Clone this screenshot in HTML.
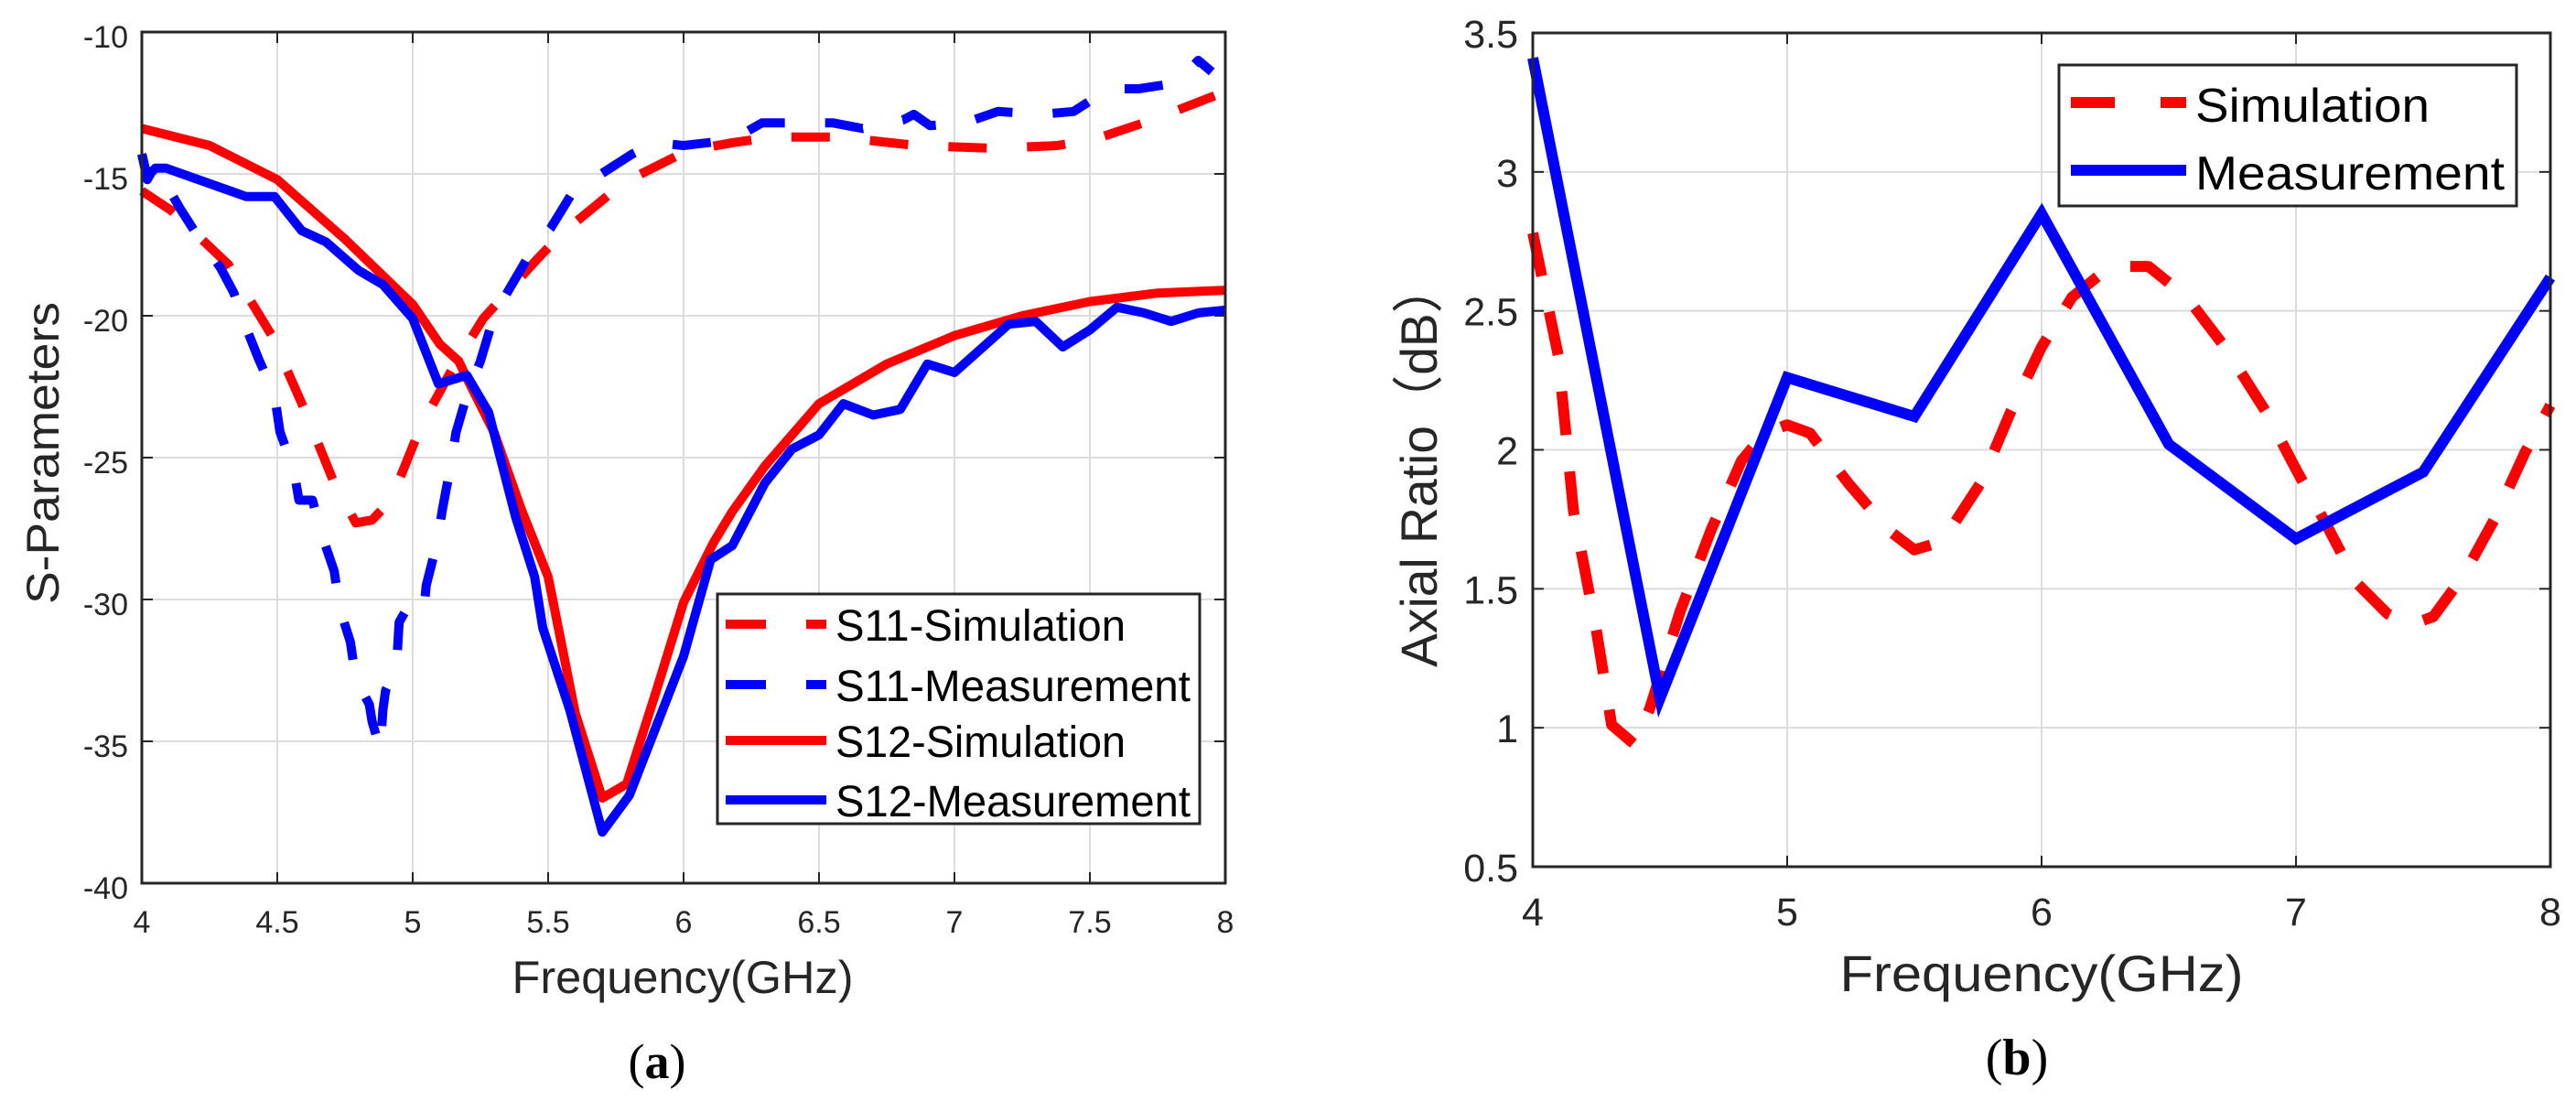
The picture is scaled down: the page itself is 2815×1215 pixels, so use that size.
<!DOCTYPE html>
<html><head><meta charset="utf-8">
<style>
html,body{margin:0;padding:0;background:#fff;}
svg{display:block;font-family:"Liberation Sans","Noto Sans CJK SC",sans-serif;}
</style></head>
<body>
<svg id="fig" width="2815" height="1215" viewBox="0 0 2815 1215" xmlns="http://www.w3.org/2000/svg">
<rect width="2815" height="1215" fill="#fff"/>
<g id="chartA"></g>
<g id="chartB"></g>
</svg>
<script>
// ---------- Chart (a) data ----------
const aXTicks = [4, 4.5, 5, 5.5, 6, 6.5, 7, 7.5, 8];
const aXTickLabels = ["4", "4.5", "5", "5.5", "6", "6.5", "7", "7.5", "8"];
const aYTicks = [-10, -15, -20, -25, -30, -35, -40];
const aYTickLabels = ["-10", "-15", "-20", "-25", "-30", "-35", "-40"];

const s11SimF = [4.0, 4.11, 4.32, 4.48, 4.6, 4.71, 4.79, 4.85, 4.92, 5.03, 5.15, 5.26, 5.46, 5.55, 5.78, 6.01, 6.18, 6.33, 6.57, 6.86, 7.15, 7.38, 7.51, 7.73, 8.0];
const s11SimV = [-15.6, -16.3, -18.2, -20.7, -23.3, -25.9, -27.3, -27.2, -26.5, -23.9, -21.8, -20.1, -18.0, -17.1, -15.3, -14.2, -13.9, -13.7, -13.7, -14.0, -14.1, -14.0, -13.8, -13.1, -12.1];

const s11MeasF = [4.0, 4.02, 4.05, 4.14, 4.2, 4.29, 4.34, 4.38, 4.43, 4.49, 4.51, 4.56, 4.58, 4.63, 4.66, 4.71, 4.73, 4.77, 4.79, 4.84, 4.85, 4.88, 4.89, 4.9, 4.94, 4.95, 4.98, 5.04, 5.05, 5.09, 5.11, 5.14, 5.16, 5.2, 5.25, 5.3, 5.36, 5.44, 5.51, 5.6, 5.68, 5.81, 5.9, 6.0, 6.18, 6.29, 6.39, 6.55, 6.66, 6.81, 6.85, 6.91, 7.04, 7.16, 7.32, 7.44, 7.57, 7.68, 7.82, 7.9, 7.95];
const s11MeasV = [-14.3, -15.2, -14.7, -16.2, -17.1, -18.3, -19.2, -20.3, -21.5, -22.8, -24.1, -25.4, -26.5, -26.5, -27.6, -29.0, -30.3, -31.5, -32.8, -33.7, -34.3, -35.3, -33.9, -33.2, -32.4, -30.8, -30.3, -30.5, -29.5, -28.0, -26.8, -25.3, -24.1, -22.8, -21.6, -20.0, -19.0, -17.7, -16.9, -15.5, -15.1, -14.3, -13.9, -14.0, -13.8, -13.2, -13.2, -13.2, -13.4, -13.1, -12.9, -13.3, -13.2, -12.8, -12.9, -12.8, -12.0, -12.0, -11.8, -11.0, -11.4];

const s12SimF = [4.0, 4.25, 4.5, 4.75, 5.0, 5.1, 5.17, 5.2, 5.3, 5.4, 5.5, 5.6, 5.7, 5.79, 5.9, 6.0, 6.11, 6.18, 6.3, 6.5, 6.75, 7.0, 7.25, 7.5, 7.75, 8.0];
const s12SimV = [-13.4, -14.0, -15.2, -17.3, -19.6, -21.0, -21.6, -22.2, -24.1, -26.8, -29.2, -34.0, -37.0, -36.5, -33.2, -30.1, -28.0, -26.9, -25.3, -23.1, -21.7, -20.7, -20.0, -19.5, -19.2, -19.1];

const s12MeasF = [4.0, 4.02, 4.05, 4.09, 4.385, 4.49, 4.59, 4.68, 4.8, 4.89, 5.0, 5.095, 5.2, 5.28, 5.38, 5.45, 5.48, 5.58, 5.7, 5.8, 6.0, 6.1, 6.18, 6.3, 6.4, 6.5, 6.59, 6.7, 6.8, 6.9, 7.0, 7.2, 7.3, 7.4, 7.5, 7.6, 7.7, 7.8, 7.9, 8.0];
const s12MeasV = [-14.3, -15.1, -14.8, -14.8, -15.8, -15.8, -17.0, -17.4, -18.4, -18.9, -20.1, -22.4, -22.1, -23.4, -27.1, -29.2, -31.0, -33.9, -38.2, -36.9, -32.0, -28.6, -28.1, -25.9, -24.7, -24.2, -23.1, -23.5, -23.3, -21.7, -22.0, -20.3, -20.2, -21.1, -20.5, -19.7, -19.9, -20.2, -19.9, -19.8];

// ---------- Chart (b) data ----------
const bXTicks = [4, 5, 6, 7, 8];
const bXTickLabels = ["4", "5", "6", "7", "8"];
const bYTicks = [0.5, 1, 1.5, 2, 2.5, 3, 3.5];
const bYTickLabels = ["0.5", "1", "1.5", "2", "2.5", "3", "3.5"];
const arSimF = [4.0, 4.1, 4.16, 4.25, 4.31, 4.4, 4.46, 4.58, 4.7, 4.82, 4.91, 5.0, 5.09, 5.24, 5.4, 5.5, 5.61, 5.76, 5.88, 6.0, 6.12, 6.27, 6.42, 6.57, 6.72, 6.88, 7.0, 7.12, 7.24, 7.36, 7.45, 7.54, 7.66, 7.78, 7.9, 8.0];
const arSimV = [2.78, 2.34, 1.78, 1.35, 1.01, 0.94, 1.07, 1.42, 1.71, 1.96, 2.06, 2.09, 2.06, 1.88, 1.71, 1.64, 1.67, 1.88, 2.14, 2.37, 2.55, 2.66, 2.66, 2.55, 2.37, 2.14, 1.93, 1.73, 1.52, 1.41, 1.37, 1.40, 1.55, 1.75, 1.99, 2.16];
const arMeasF = [4, 4.5, 5, 5.5, 6, 6.5, 7, 7.5, 8];
const arMeasV = [3.41, 1.106, 2.26, 2.12, 2.85, 2.02, 1.68, 1.92, 2.62];

// ---------- helpers ----------
const NS = "http://www.w3.org/2000/svg";
function mk(parent, tag, attrs, text) {
  const e = document.createElementNS(NS, tag);
  for (const k in attrs) e.setAttribute(k, attrs[k]);
  if (text !== undefined) e.textContent = text;
  parent.appendChild(e);
  return e;
}
function pathFrom(F, V, sx, sy) {
  return F.map((f, i) => (i ? "L" : "M") + sx(f).toFixed(1) + "," + sy(V[i]).toFixed(1)).join(" ");
}

// ---------- Chart (a) ----------
const gA = document.getElementById("chartA");
const aL = 155, aR = 1339, aT = 35, aB = 965;
const ax = f => aL + (f - 4) / 4 * (aR - aL);
const ay = v => aT + (-10 - v) / 30 * (aB - aT);

aXTicks.forEach((t, i) => {
  const x = ax(t);
  if (i > 0 && i < aXTicks.length - 1) {
    const g = mk(gA, "line", {x1: x, y1: aT, x2: x, y2: aB, stroke: "#dcdcdc", "stroke-width": 2});
    
    
    mk(gA, "line", {x1: x, y1: aB, x2: x, y2: aB - 12, stroke: "#262626", "stroke-width": 2});
    mk(gA, "line", {x1: x, y1: aT, x2: x, y2: aT + 12, stroke: "#262626", "stroke-width": 2});
  }
  const lb = mk(gA, "text", {x: x, y: 1019, "font-size": 34, fill: "#262626", "text-anchor": "middle"}, aXTickLabels[i]);
  
  
});
aYTicks.forEach((t, i) => {
  const y = ay(t);
  if (i > 0 && i < aYTicks.length - 1) {
    const g = mk(gA, "line", {x1: aL, y1: y, x2: aR, y2: y, stroke: "#dcdcdc", "stroke-width": 2});
    
    
    mk(gA, "line", {x1: aL, y1: y, x2: aL + 12, y2: y, stroke: "#262626", "stroke-width": 2});
    mk(gA, "line", {x1: aR, y1: y, x2: aR - 12, y2: y, stroke: "#262626", "stroke-width": 2});
  }
  const lb = mk(gA, "text", {x: 140, y: y + 17, "font-size": 34, fill: "#262626", "text-anchor": "end"}, aYTickLabels[i]);
  
  
});

const lineA = [
  [s11SimF, s11SimV, "#ff0000", "42 44", "s11-simulation-line"],
  [s11MeasF, s11MeasV, "#0000ff", "42 44", "s11-measurement-line"],
  [s12SimF, s12SimV, "#ff0000", "", "s12-simulation-line"],
  [s12MeasF, s12MeasV, "#0000ff", "", "s12-measurement-line"]
];
lineA.forEach(s => {
  const p = mk(gA, "path", {d: pathFrom(s[0], s[1], ax, ay), fill: "none", stroke: s[2], "stroke-width": 10, "stroke-linejoin": "round", "stroke-dasharray": s[3] || "none"});
  
  
});

const boxA = mk(gA, "rect", {x: aL, y: aT, width: aR - aL, height: aB - aT, fill: "none", stroke: "#262626", "stroke-width": 3});



const legA = mk(gA, "g", {});


mk(legA, "rect", {x: 784, y: 649, width: 527, height: 251, fill: "#fff", stroke: "#262626", "stroke-width": 3});
const legAItems = [
  ["S11-Simulation", "#ff0000", true, 682, 317],
  ["S11-Measurement", "#0000ff", true, 748, 388],
  ["S12-Simulation", "#ff0000", false, 809, 317],
  ["S12-Measurement", "#0000ff", false, 874, 388]
];
legAItems.forEach(it => {
  const g = mk(legA, "g", {});
  
  
  if (it[2]) {
    mk(g, "line", {x1: 793, y1: it[3], x2: 837, y2: it[3], stroke: it[1], "stroke-width": 10});
    mk(g, "line", {x1: 881, y1: it[3], x2: 903, y2: it[3], stroke: it[1], "stroke-width": 10});
  } else {
    mk(g, "line", {x1: 793, y1: it[3], x2: 903, y2: it[3], stroke: it[1], "stroke-width": 10});
  }
  mk(g, "text", {x: 913, y: it[3] + 18, "font-size": 48, fill: "#000", textLength: it[4], lengthAdjust: "spacingAndGlyphs"}, it[0]);
});

const xtA = mk(gA, "text", {x: 746, y: 1085, "font-size": 50, fill: "#262626", "text-anchor": "middle", textLength: 373, lengthAdjust: "spacingAndGlyphs"}, "Frequency(GHz)");


const ytA = mk(gA, "text", {x: 0, y: 0, "font-size": 50, fill: "#262626", "text-anchor": "middle", transform: "translate(64,495) rotate(-90)", textLength: 330, lengthAdjust: "spacingAndGlyphs"}, "S-Parameters");


const capA = mk(gA, "text", {x: 718, y: 1178, "font-size": 54, fill: "#000", "text-anchor": "middle", "font-family": "Liberation Serif, serif"});


capA.innerHTML = '(<tspan font-weight="bold">a</tspan>)';

// ---------- Chart (b) ----------
const gB = document.getElementById("chartB");
const bL = 1675, bR = 2787, bT = 36, bB = 947;
const bx = f => bL + (f - 4) / 4 * (bR - bL);
const by = v => bT + (3.5 - v) / 3 * (bB - bT);

bXTicks.forEach((t, i) => {
  const x = bx(t);
  if (i > 0 && i < bXTicks.length - 1) {
    const g = mk(gB, "line", {x1: x, y1: bT, x2: x, y2: bB, stroke: "#dcdcdc", "stroke-width": 2});
    
    
    mk(gB, "line", {x1: x, y1: bB, x2: x, y2: bB - 12, stroke: "#262626", "stroke-width": 2});
    mk(gB, "line", {x1: x, y1: bT, x2: x, y2: bT + 12, stroke: "#262626", "stroke-width": 2});
  }
  const lb = mk(gB, "text", {x: x, y: 1011, "font-size": 43, fill: "#262626", "text-anchor": "middle"}, bXTickLabels[i]);
  
  
});
bYTicks.forEach((t, i) => {
  const y = by(t);
  if (i > 0 && i < bYTicks.length - 1) {
    const g = mk(gB, "line", {x1: bL, y1: y, x2: bR, y2: y, stroke: "#dcdcdc", "stroke-width": 2});
    
    
    mk(gB, "line", {x1: bL, y1: y, x2: bL + 12, y2: y, stroke: "#262626", "stroke-width": 2});
    mk(gB, "line", {x1: bR, y1: y, x2: bR - 12, y2: y, stroke: "#262626", "stroke-width": 2});
  }
  const lb = mk(gB, "text", {x: 1659, y: y + 16, "font-size": 43, fill: "#262626", "text-anchor": "end"}, bYTickLabels[i]);
  
  
});

const simB = mk(gB, "path", {d: pathFrom(arSimF, arSimV, bx, by), fill: "none", stroke: "#ff0000", "stroke-width": 12, "stroke-linejoin": "round", "stroke-dasharray": "48 40"});


const measB = mk(gB, "path", {d: pathFrom(arMeasF, arMeasV, bx, by), fill: "none", stroke: "#0000ff", "stroke-width": 12, "stroke-linejoin": "miter"});



const boxB = mk(gB, "rect", {x: bL, y: bT, width: bR - bL, height: bB - bT, fill: "none", stroke: "#262626", "stroke-width": 3});



const legB = mk(gB, "g", {});


mk(legB, "rect", {x: 2250, y: 71, width: 500, height: 154, fill: "#fff", stroke: "#262626", "stroke-width": 3});
const e1 = mk(legB, "g", {});


mk(e1, "line", {x1: 2263, y1: 112, x2: 2311, y2: 112, stroke: "#ff0000", "stroke-width": 12});
mk(e1, "line", {x1: 2361, y1: 112, x2: 2389, y2: 112, stroke: "#ff0000", "stroke-width": 12});
mk(e1, "text", {x: 2399, y: 133, "font-size": 52, fill: "#000", textLength: 256, lengthAdjust: "spacingAndGlyphs"}, "Simulation");
const e2 = mk(legB, "g", {});


mk(e2, "line", {x1: 2263, y1: 186, x2: 2389, y2: 186, stroke: "#0000ff", "stroke-width": 12});
mk(e2, "text", {x: 2399, y: 207, "font-size": 52, fill: "#000", textLength: 338, lengthAdjust: "spacingAndGlyphs"}, "Measurement");

const xtB = mk(gB, "text", {x: 2231, y: 1083, "font-size": 56, fill: "#262626", "text-anchor": "middle", textLength: 441, lengthAdjust: "spacingAndGlyphs"}, "Frequency(GHz)");


const ytB = mk(gB, "text", {x: 0, y: 0, "font-size": 56, fill: "#262626", "text-anchor": "middle", transform: "translate(1570,508) rotate(-90)", textLength: 442, lengthAdjust: "spacingAndGlyphs"}, "Axial Ratio（dB）");


const capB = mk(gB, "text", {x: 2204, y: 1174, "font-size": 56, fill: "#000", "text-anchor": "middle", "font-family": "Liberation Serif, serif"});


capB.innerHTML = '(<tspan font-weight="bold">b</tspan>)';
</script>
</body></html>
